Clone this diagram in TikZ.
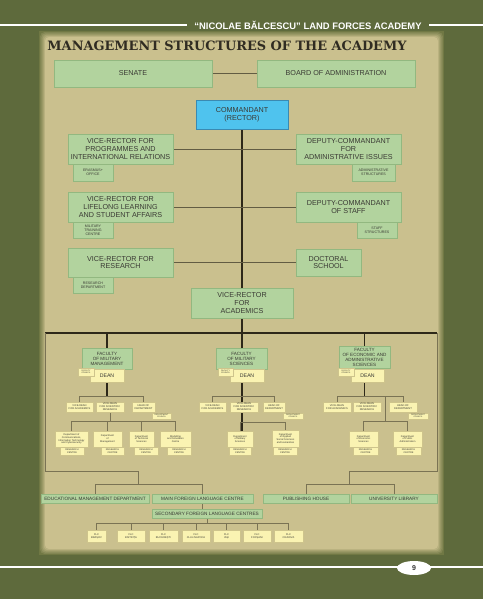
\documentclass[tikz,border=0pt]{standalone}
\usepackage{fontspec}
\setmainfont{Liberation Sans}
\newfontfamily\titlefont{DejaVu Serif}
\usetikzlibrary{shapes.geometric}

\definecolor{pagegreen}{RGB}{94,106,60}
\definecolor{panelshade}{RGB}{112,120,68}
\definecolor{panelbeige}{RGB}{202,192,142}
\definecolor{gboxfill}{RGB}{178,211,158}
\definecolor{gboxline}{RGB}{146,184,128}
\definecolor{yboxfill}{RGB}{250,243,178}
\definecolor{yboxline}{RGB}{206,196,140}
\definecolor{bboxfill}{RGB}{79,195,238}
\definecolor{bboxline}{RGB}{58,138,178}
\definecolor{wiredark}{RGB}{45,40,25}
\definecolor{wiregray}{RGB}{122,115,84}
\definecolor{boxtext}{RGB}{58,58,52}
\definecolor{titletext}{RGB}{48,44,34}

\pgfdeclarelayer{panel}
\pgfdeclarelayer{wires}
\pgfsetlayers{panel,wires,main}

\begin{document}
\begin{tikzpicture}[
  x=1pt, y=-1pt,
  gbox/.style={draw=gboxline, fill=gboxfill, text=boxtext, inner sep=0pt, align=center, font=\fontsize{7.2}{7.8}\selectfont},
  gsmall/.style={gbox, font=\fontsize{3.6}{4}\selectfont},
  gfac/.style={gbox, font=\fontsize{4.6}{5}\selectfont},
  gbottom/.style={gbox, minimum height=9, font=\fontsize{4.7}{5}\selectfont},
  bbox/.style={gbox, draw=bboxline, fill=bboxfill, line width=0.8pt},
  ybox/.style={draw=yboxline, fill=yboxfill, text=boxtext, inner sep=0pt, align=center, font=\fontsize{5.2}{6}\selectfont},
  ytiny/.style={ybox, font=\fontsize{2}{2.3}\selectfont},
  yvd/.style={ybox, minimum height=10, font=\fontsize{2.6}{3}\selectfont},
  ydept/.style={ybox, minimum height=16, font=\fontsize{2.5}{2.8}\selectfont},
  yrc/.style={ybox, minimum height=8, font=\fontsize{2.4}{2.6}\selectfont},
  yflc/.style={ybox, minimum height=12, font=\fontsize{2.6}{3}\selectfont},
  mainline/.style={draw=wiredark, line width=1.1pt},
  sideline/.style={draw=wiregray!80!black, line width=0.8pt},
  subline/.style={draw=wiregray, line width=0.6pt},
  headline/.style={draw=white, line width=1.2pt}
]
\useasboundingbox (0,0) rectangle (483,599);

% page and panel
\begin{pgfonlayer}{panel}
\fill[pagegreen] (0,0) rectangle (483,599);
\fill[panelshade] (39,31) rectangle (444,555);
\foreach \k/\p in {1/20,2/40,3/60,4/80,5/100}
  \fill[rounded corners=4, panelbeige!\p!panelshade] (39+1.2*\k,31+1.2*\k) rectangle (444-1.2*\k,555-1.2*\k);
\end{pgfonlayer}

% header
\node[text=white, font=\bfseries\fontsize{9.4}{11}\selectfont] (hdr) at (308,25) {“NICOLAE BĂLCESCU” LAND FORCES ACADEMY};
\coordinate (hdrL) at (0,25);
\coordinate (hdrR) at (483,25);
\draw[headline] (hdrL) -- ([xshift=-4]hdr.west);
\draw[headline] ([xshift=4]hdr.east) -- (hdrR);
\node[text=titletext, font=\titlefont\bfseries\fontsize{12.9}{15}\selectfont] (title) at (227,46) {MANAGEMENT STRUCTURES OF THE ACADEMY};

% top management
\node[gbox, minimum width=158, minimum height=27] (senate) at (133,73.5) {SENATE};
\node[gbox, minimum width=158, minimum height=27] (board) at (336,73.5) {BOARD OF ADMINISTRATION};
\node[bbox, minimum width=92, minimum height=29] (rector) at (242,114.5) {COMMANDANT\\(RECTOR)};
\node[gbox, minimum width=105, minimum height=30] (vrprog) at (120.5,149) {VICE-RECTOR FOR\\PROGRAMMES AND\\INTERNATIONAL RELATIONS};
\node[gsmall, minimum width=40, minimum height=17] (erasmus) at (93,172.5) {ERASMUS+\\OFFICE};
\node[gbox, minimum width=105, minimum height=30] (dcadm) at (348.5,149) {DEPUTY-COMMANDANT\\FOR\\ADMINISTRATIVE ISSUES};
\node[gsmall, minimum width=43, minimum height=17] (admstr) at (373.5,172.5) {ADMINISTRATIVE\\STRUCTURES};
\node[gbox, minimum width=105, minimum height=30] (vrlll) at (120.5,207) {VICE-RECTOR FOR\\LIFELONG LEARNING\\AND STUDENT AFFAIRS};
\node[gsmall, minimum width=40, minimum height=16] (mtc) at (93,230) {MILITARY\\TRAINING\\CENTRE};
\node[gbox, minimum width=105, minimum height=30] (dcstaff) at (348.5,207) {DEPUTY-COMMANDANT\\OF STAFF};
\node[gsmall, minimum width=40, minimum height=16] (staffstr) at (377,230) {STAFF\\STRUCTURES};
\node[gbox, minimum width=105, minimum height=29] (vrres) at (120.5,262.5) {VICE-RECTOR FOR\\RESEARCH};
\node[gsmall, minimum width=40, minimum height=16] (resdep) at (93,285) {RESEARCH\\DEPARTMENT};
\node[gbox, minimum width=65, minimum height=27] (doct) at (328.5,262.5) {DOCTORAL\\SCHOOL};
\node[gbox, minimum width=102, minimum height=30] (vracad) at (242,303) {VICE-RECTOR\\FOR\\ACADEMICS};

% faculties
\node[gfac, minimum width=50, minimum height=21] (fac1) at (107,358.5) {FACULTY\\OF MILITARY\\MANAGEMENT};
\node[ybox, minimum width=34, minimum height=13] (dean1) at (107,375.5) {DEAN};
\node[ytiny, minimum width=16, minimum height=8] (fc1) at (86,372) {FACULTY\\COUNCIL};
\node[gfac, minimum width=51, minimum height=21] (fac2) at (241.5,358.5) {FACULTY\\OF MILITARY\\SCIENCES};
\node[ybox, minimum width=34, minimum height=13] (dean2) at (247,375.5) {DEAN};
\node[ytiny, minimum width=15, minimum height=8] (fc2) at (225.5,372) {FACULTY\\COUNCIL};
\node[gfac, minimum width=51, minimum height=22] (fac3) at (364.5,357) {FACULTY\\OF ECONOMIC AND\\ADMINISTRATIVE\\SCIENCES};
\node[ybox, minimum width=33, minimum height=13] (dean3) at (367.5,375.5) {DEAN};
\node[ytiny, minimum width=16, minimum height=8] (fc3) at (346,372) {FACULTY\\COUNCIL};

% vice-deans and heads
\node[yvd, minimum width=27] (vda1) at (79.5,407) {VICE-DEAN\\FOR ACADEMICS};
\node[yvd, minimum width=28] (vds1) at (110,407) {VICE-DEAN\\FOR SCIENTIFIC\\RESEARCH};
\node[yvd, minimum width=23] (hd1) at (143.5,407) {HEAD OF\\DEPARTMENT};
\node[ytiny, minimum width=19, minimum height=6] (dc1) at (161.5,416) {DEPARTMENT\\COUNCIL};
\node[yvd, minimum width=27] (vda2) at (212.5,407) {VICE-DEAN\\FOR ACADEMICS};
\node[yvd, minimum width=28] (vds2) at (244,407) {VICE-DEAN\\FOR SCIENTIFIC\\RESEARCH};
\node[yvd, minimum width=22] (hd2) at (274,407) {HEAD OF\\DEPARTMENT};
\node[ytiny, minimum width=20, minimum height=6] (dc2) at (293,416) {DEPARTMENT\\COUNCIL};
\node[yvd, minimum width=28] (vda3) at (337,407) {VICE-DEAN\\FOR ACADEMICS};
\node[yvd, minimum width=28] (vds3) at (367,407) {VICE-DEAN\\FOR SCIENTIFIC\\RESEARCH};
\node[yvd, minimum width=28] (hd3) at (403,407) {HEAD OF\\DEPARTMENT};
\node[ytiny, minimum width=20, minimum height=6] (dc3) at (418,416) {DEPARTMENT\\COUNCIL};

% departments
\node[ydept, minimum width=33] (d11) at (71.5,439) {Department of\\Communications,\\Information Technology\\and Cybersecurity};
\node[yrc, minimum width=24] (rc11) at (72,451) {RESEARCH\\CENTRE};
\node[ydept, minimum width=29] (d12) at (107.5,439) {Department\\of\\Management};
\node[yrc, minimum width=23] (rc12) at (112.5,451) {RESEARCH\\CENTRE};
\node[ydept, minimum width=25] (d13) at (141.5,439) {Department\\of Technical\\Sciences};
\node[yrc, minimum width=24] (rc13) at (146,451) {RESEARCH\\CENTRE};
\node[ydept, minimum width=31] (d14) at (175.5,439) {Modelling\\and Simulation\\Centre};
\node[yrc, minimum width=24] (rc14) at (179,451) {RESEARCH\\CENTRE};
\node[ydept, minimum width=26] (d21) at (240,439) {Department\\of Military\\Sciences};
\node[yrc, minimum width=22] (rc21) at (240,451) {RESEARCH\\CENTRE};
\node[ydept, minimum width=27, minimum height=17] (d22) at (285.5,438.5) {Department\\of Applied\\Social Sciences\\and Humanities};
\node[yrc, minimum width=24] (rc22) at (285,451) {RESEARCH\\CENTRE};
\node[ydept, minimum width=29] (d31) at (363.5,439) {Department\\of Economic\\Sciences};
\node[yrc, minimum width=25] (rc31) at (365.5,451) {RESEARCH\\CENTRE};
\node[ydept, minimum width=29] (d32) at (407.5,439) {Department\\of Public\\Administration};
\node[yrc, minimum width=25] (rc32) at (408.5,451) {RESEARCH\\CENTRE};

% support structures
\node[gbottom, minimum width=108] (emd) at (95,498.5) {EDUCATIONAL MANAGEMENT DEPARTMENT};
\node[gbottom, minimum width=101] (mflc) at (202.5,498.5) {MAIN FOREIGN LANGUAGE CENTRE};
\node[gbottom, minimum width=86] (pub) at (306,498.5) {PUBLISHING HOUSE};
\node[gbottom, minimum width=86] (lib) at (394,498.5) {UNIVERSITY LIBRARY};
\node[gbottom, minimum width=110] (sflc) at (207,513.5) {SECONDARY FOREIGN LANGUAGE CENTRES};
\node[yflc, minimum width=19] (flc1) at (96.5,536) {FLC\\BRAȘOV};
\node[yflc, minimum width=28] (flc2) at (131,536) {FLC\\BISTRIȚA};
\node[yflc, minimum width=29] (flc3) at (163.5,536) {FLC\\BUCUREȘTI};
\node[yflc, minimum width=28] (flc4) at (196,536) {FLC\\CLUJ-NAPOCA};
\node[yflc, minimum width=27] (flc5) at (226.5,536) {FLC\\IAȘI};
\node[yflc, minimum width=28] (flc6) at (257,536) {FLC\\FOCȘANI};
\node[yflc, minimum width=29] (flc7) at (288.5,536) {FLC\\CRAIOVA};

% connectors
\coordinate (barL) at (45,333);
\coordinate (barR) at (437,333);
\coordinate (baseL) at (45,471);
\coordinate (baseR) at (437,471);
\coordinate (forkL) at (138,471);
\coordinate (forkR) at (349,471);
\coordinate (f3mid) at (385,396);
\begin{pgfonlayer}{wires}
\draw[sideline] (senate) -- (board);
\draw[mainline] (rector) -- (rector |- d21.north);
\draw[sideline] (vrprog) -- (dcadm);
\draw[sideline] (vrlll) -- (dcstaff);
\draw[sideline] (vrres) -- (doct);
\draw[mainline] (barL) -- (barR);
\draw[mainline] (fac1) -- (fac1 |- barL);
\draw[mainline] (fac3) -- (fac3 |- barR);
\draw[mainline] (fac1) -- (fac1 |- 0,396);
\draw[mainline] (fac3) -- (fac3 |- 0,396);

\draw[subline] (vda1) -- (vda1 |- 0,396) -- (hd1 |- 0,396) -- (hd1);
\draw[subline] (vds1) -- (vds1 |- 0,421);
\draw[subline] (d11) -- (d11 |- 0,421) -- (d14 |- 0,421) -- (d14);
\draw[subline] (d12) -- (d12 |- 0,421);
\draw[subline] (d13) -- (d13 |- 0,421);

\draw[subline] (vda2) -- (vda2 |- 0,396) -- (hd2 |- 0,396) -- (hd2);
\draw[subline] (d21) -- (d21 |- 0,422) -- (d22 |- 0,422) -- (d22);

\draw[subline] (vda3) -- (vda3 |- 0,396) -- (hd3 |- 0,396) -- (hd3);
\draw[subline] (f3mid) -- (f3mid |- 0,421);
\draw[subline] (d31) -- (d31 |- 0,421) -- (d32 |- 0,421) -- (d32);

\draw[subline] (barL) -- (baseL) -- (forkL) -- (forkL |- 0,484);
\draw[subline] (barR) -- (baseR) -- (forkR) -- (forkR |- 0,484);
\draw[subline] (emd) -- (emd |- 0,484) -- (mflc |- 0,484) -- (mflc);
\draw[subline] (pub) -- (pub |- 0,484) -- (lib |- 0,484) -- (lib);
\draw[subline] (mflc) -- (mflc |- sflc);
\draw[subline] (sflc) -- (sflc |- 0,523);
\draw[subline] (flc1) -- (flc1 |- 0,523) -- (flc7 |- 0,523) -- (flc7);
\foreach \n in {flc2,flc3,flc4,flc5,flc6}
  \draw[subline] (\n) -- (\n |- 0,523);
\end{pgfonlayer}

% footer
\coordinate (ftL) at (0,567);
\coordinate (ftR) at (483,567);
\draw[headline] (ftL) -- (ftR);
\node[ellipse, fill=white, inner sep=0pt, minimum width=34, minimum height=14, text=black!80, font=\bfseries\fontsize{7}{8}\selectfont] (pgno) at (414,568) {9};
\end{tikzpicture}
\end{document}
